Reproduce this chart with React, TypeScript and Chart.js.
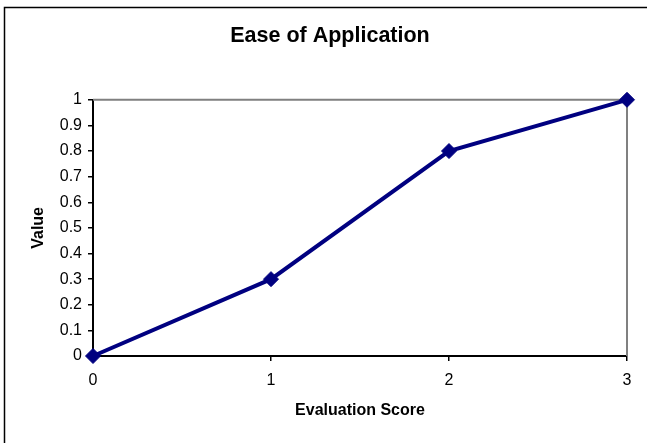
import React, { useEffect, useRef } from "react";
import { Chart, registerables } from "chart.js";

Chart.register(...registerables);

const chartTitle = "Ease of Application";
const xAxisTitle = "Evaluation Score";
const yAxisTitle = "Value";
const xValues = [0, 1, 2, 3];
const yValues = [0, 0.3, 0.8, 1];
const xTicks = [0, 1, 2, 3];
const yTicks = [0, 0.1, 0.2, 0.3, 0.4, 0.5, 0.6, 0.7, 0.8, 0.9, 1];

const FONT = "'Liberation Sans', Arial, Helvetica, sans-serif";
const NAVY = "#000080";

export default function App() {
  const ref = useRef<HTMLCanvasElement>(null);

  useEffect(() => {
    if (!ref.current) return;

    const frame = {
      id: "frame",
      beforeDraw(chart: any) {
        const { ctx } = chart;
        ctx.save();
        ctx.fillStyle = "#ffffff";
        ctx.fillRect(0, 0, chart.width, chart.height);
        ctx.strokeStyle = "#000000";
        ctx.lineWidth = 1.5;
        ctx.strokeRect(4.5, 7.5, chart.width + 50, chart.height + 50);
        ctx.restore();
      },
    };

    const plotBorder = {
      id: "plotBorder",
      beforeDatasetsDraw(chart: any) {
        const { ctx, chartArea } = chart;
        const { left, right, top, bottom } = chartArea;
        ctx.save();
        ctx.strokeStyle = "#808080";
        ctx.lineWidth = 2;
        ctx.beginPath();
        ctx.moveTo(left, top);
        ctx.lineTo(right, top);
        ctx.lineTo(right, bottom);
        ctx.stroke();
        ctx.restore();
      },
    };

    const chart = new Chart(ref.current, {
      type: "line",
      data: {
        datasets: [
          {
            label: yAxisTitle,
            data: xValues.map((x, i) => ({ x, y: yValues[i] })),
            borderColor: NAVY,
            backgroundColor: NAVY,
            borderWidth: 4,
            pointStyle: "rectRot",
            pointRadius: 7.5,
            pointBorderWidth: 1,
            pointBorderColor: NAVY,
            pointBackgroundColor: NAVY,
            tension: 0,
            clip: false as any,
            yAxisID: "y",
          },
        ],
      },
      options: {
        animation: false,
        responsive: true,
        maintainAspectRatio: false,
        layout: { padding: { left: 13, right: 0, top: 0, bottom: 0 } },
        plugins: {
          legend: { display: false },
          tooltip: { enabled: false },
          title: {
            display: true,
            text: chartTitle,
            color: "#000",
            font: { family: FONT, size: 21.5, weight: "bold" },
            padding: { top: 23, bottom: 51 },
          },
        },
        scales: {
          x: {
            type: "linear",
            min: 0,
            max: 3,
            afterBuildTicks: (scale: any) => {
              scale.ticks = xTicks.map((v) => ({ value: v }));
            },
            afterFit: (scale: any) => {
              scale.height = 87;
            },
            ticks: {
              color: "#000",
              font: { family: FONT, size: 16 },
              padding: 10,
              maxRotation: 0,
              callback: (v: any) => String(v),
            },
            grid: {
              display: true,
              drawOnChartArea: false,
              drawTicks: true,
              tickLength: 5,
              color: "#000",
              lineWidth: 1.5,
            },
            border: { display: true, color: "#000", width: 2 },
            title: {
              display: true,
              text: xAxisTitle,
              color: "#000",
              font: { family: FONT, size: 16, weight: "bold" },
              padding: { top: 0, bottom: 23 },
            },
          },
          y: {
            type: "linear",
            position: "left",
            min: 0,
            max: 1,
            afterBuildTicks: (scale: any) => {
              scale.ticks = yTicks.map((v) => ({ value: v }));
            },
            afterFit: (scale: any) => {
              scale.width = 80;
            },
            ticks: {
              color: "#000",
              font: { family: FONT, size: 16 },
              padding: 6,
              callback: (v: any) => String(Number(Number(v).toFixed(1))),
            },
            grid: {
              display: true,
              drawOnChartArea: false,
              drawTicks: true,
              tickLength: 5,
              color: "#000",
              lineWidth: 1.5,
            },
            border: { display: true, color: "#000", width: 2 },
            title: {
              display: true,
              text: yAxisTitle,
              color: "#000",
              font: { family: FONT, size: 16, weight: "bold" },
              padding: { top: 16, bottom: 0 },
            },
          },
          yRight: {
            type: "linear",
            position: "right",
            min: 0,
            max: 1,
            afterFit: (scale: any) => {
              scale.width = 20;
            },
            ticks: { display: false },
            grid: { display: false, drawTicks: false },
            border: { display: false },
            title: { display: false },
          },
        },
      },
      plugins: [frame, plotBorder],
    });

    return () => chart.destroy();
  }, []);

  return (
    <div style={{ position: "absolute", left: 0, top: 0, width: 647, height: 443 }}>
      <canvas ref={ref} />
    </div>
  );
}
